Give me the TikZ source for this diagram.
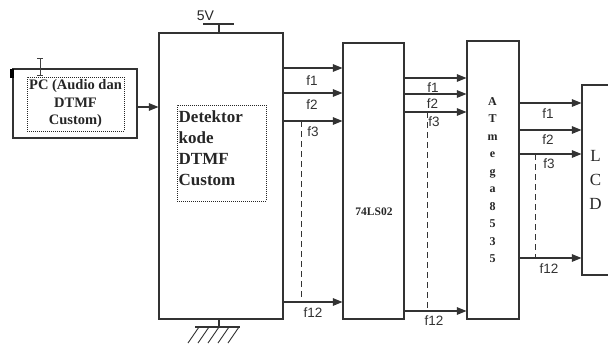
\documentclass[tikz,border=0pt]{standalone}
\usepackage{fontspec}
\setmainfont{Liberation Serif}
\setsansfont{Liberation Sans}
\usetikzlibrary{arrows.meta}
\begin{document}
\begin{tikzpicture}[x=1pt,y=-1pt,
  box/.style={draw=black!80,line width=1.1pt,rectangle,inner sep=0pt},
  dotbox/.style={draw=black!85,dash pattern=on 0.8pt off 1.2pt,line width=0.7pt,rectangle,inner sep=0pt},
  arr/.style={line width=1.1pt,draw=black!80,-{Triangle[length=9.5pt,width=7.5pt]}},
  wire/.style={line width=1.1pt,draw=black!80},
  dashln/.style={line width=0.9pt,draw=black!80,dash pattern=on 6pt off 4pt},
  flab/.style={font=\sffamily\fontsize{13.5}{13.5}\selectfont,text=black!80,inner sep=0pt},
  boldtxt/.style={font=\bfseries,inner sep=0pt}
]
\useasboundingbox (0,0) rectangle (608,343);
\clip (0,0) rectangle (608,343);
\fill[white] (0,0) rectangle (608,343);

% PC block
\node[box,minimum width=124pt,minimum height=69pt] (pc) at (75,103.5) {};
\node[dotbox,minimum width=97pt,minimum height=54pt,align=center,
      font=\bfseries\fontsize{14.5}{17.5}\selectfont,text=black!85] (pcin) at (75.5,104) {PC (Audio dan\\DTMF\\Custom)};
\fill[black] (10,69) rectangle (13.5,78);
\coordinate (ct) at (40,58);
\coordinate (cb) at (40,75);
\draw[line width=1pt,black!75] (ct) -- (cb) (37,58) -- (43,58) (37,75) -- (43,75);

% Detector block
\node[box,minimum width=124pt,minimum height=286pt] (det) at (221,176) {};
\node[dotbox,minimum width=89pt,minimum height=96pt] (detin) at (221.5,153) {};
\node[anchor=north west,align=left,inner sep=0pt,text=black!85,
      font=\bfseries\fontsize{17}{21}\selectfont] (dettxt) at (178.5,111) {Detektor\\kode\\DTMF\\Custom};

% 5V supply
\node[font=\sffamily\fontsize{14}{14}\selectfont,text=black!85,inner sep=0pt] (vcc) at (205.5,15.5) {5V};
\coordinate (vtop) at (219,24);
\draw[wire] (det.north -| vtop) -- (vtop);
\coordinate (vl) at (203,24);
\coordinate (vr) at (234,24);
\draw[wire] (vl) -- (vr);

% ground
\coordinate (gnd) at (219,327);
\draw[wire] (det.south -| gnd) -- (gnd);
\coordinate (gl) at (195,327);
\coordinate (gr) at (240,327);
\draw[wire] (gl) -- (gr);
\foreach \gx in {199,209,219,229,239}{
  \draw[line width=0.9pt,black!80] (\gx,327) -- (\gx-11,343);
}

% PC -> detector
\draw[arr] (pc.east |- 0,107) -- (det.west |- 0,107);

% 74LS02 block
\node[box,minimum width=61pt,minimum height=276pt] (ls) at (373.5,181) {};
\node[boldtxt,font=\bfseries\fontsize{11.5}{11.5}\selectfont,text=black!85] (lstxt) at (374,212) {74LS02};

% ATmega block
\node[box,minimum width=52pt,minimum height=278pt] (atm) at (493,180) {};
\node[align=center,inner sep=0pt,text=black!85,
      font=\bfseries\fontsize{12}{17.5}\selectfont] (atmtxt) at (492.5,180) {A\\T\\m\\e\\g\\a\\8\\5\\3\\5};

% LCD block
\node[box,minimum width=50pt,minimum height=190pt] (lcd) at (607,180) {};
\node[align=center,inner sep=0pt,text=black!85,
      font=\fontsize{17}{24}\selectfont] (lcdtxt) at (595.5,180) {L\\C\\D};

% group 1: detector -> 74LS02
\foreach \yy in {68,93,121,302}{
  \draw[arr] (det.east |- 0,\yy) -- (ls.west |- 0,\yy);
}
\coordinate (d1a) at (301,121);
\coordinate (d1b) at (301,302);
\draw[dashln] (d1a) -- (d1b);
\node[flab] (a1) at (312,80.5) {f1};
\node[flab] (a2) at (312,105) {f2};
\node[flab] (a3) at (313,132) {f3};
\node[flab] (a12) at (313,312.5) {f12};

% group 2: 74LS02 -> ATmega
\foreach \yy in {78,94,112,311}{
  \draw[arr] (ls.east |- 0,\yy) -- (atm.west |- 0,\yy);
}
\coordinate (d2a) at (427,112);
\coordinate (d2b) at (427,311);
\draw[dashln] (d2a) -- (d2b);
\node[flab] (b1) at (433,88) {f1};
\node[flab] (b2) at (432.5,104) {f2};
\node[flab] (b3) at (434,122) {f3};
\node[flab] (b12) at (434,321) {f12};

% group 3: ATmega -> LCD
\foreach \yy in {103,130,154,258}{
  \draw[arr] (atm.east |- 0,\yy) -- (lcd.west |- 0,\yy);
}
\coordinate (d3a) at (535,154);
\coordinate (d3b) at (535,258);
\draw[dashln] (d3a) -- (d3b);
\node[flab] (c1) at (548,113.5) {f1};
\node[flab] (c2) at (548,139.5) {f2};
\node[flab] (c3) at (549,164) {f3};
\node[flab] (c12) at (549,268.5) {f12};
\end{tikzpicture}
\end{document}
